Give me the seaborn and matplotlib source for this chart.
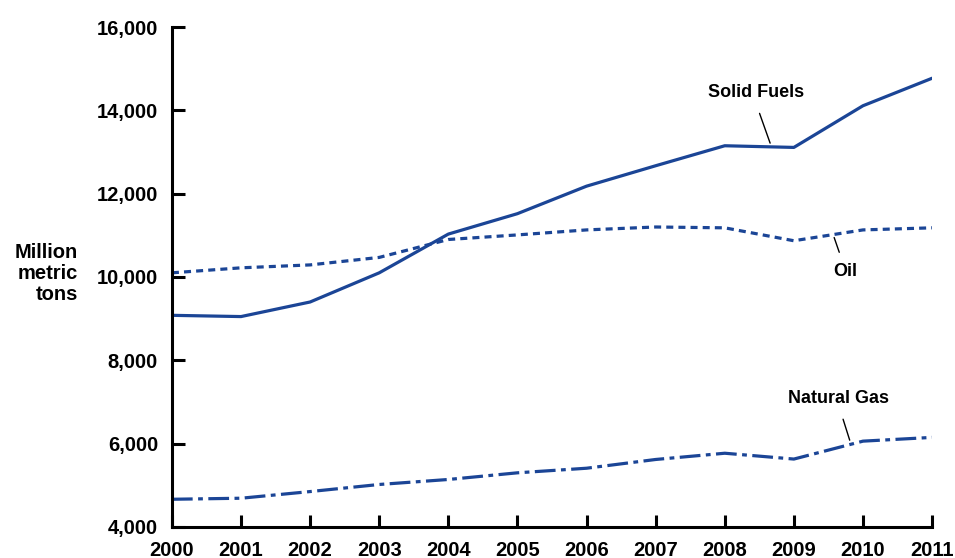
import matplotlib
matplotlib.use("Agg")
import matplotlib.pyplot as plt  # plotting
import seaborn as sns  # line drawing
import pandas as pd  # long-form table for seaborn

# World energy use by fuel, million metric tons
years = list(range(2000, 2012))
solid_fuels = [9080, 9050, 9400, 10100, 11030, 11520, 12180, 12670, 13150, 13110, 14110, 14770]
oil = [10100, 10220, 10290, 10470, 10900, 11010, 11130, 11200, 11180, 10870, 11130, 11180]
natural_gas = [4665, 4690, 4850, 5020, 5140, 5300, 5410, 5620, 5770, 5630, 6060, 6150]
y_ticks = [4000, 6000, 8000, 10000, 12000, 14000, 16000]

blue = "#1b4596"

df = pd.DataFrame({
    "year": years * 3,
    "tons": solid_fuels + oil + natural_gas,
    "fuel": ["Solid Fuels"] * 12 + ["Oil"] * 12 + ["Natural Gas"] * 12,
})

sns.set_style("white")
plt.rcParams["font.family"] = ["Liberation Sans", "DejaVu Sans"]
plt.rcParams["font.weight"] = "bold"
plt.rcParams["text.color"] = "black"
plt.rcParams["xtick.color"] = "black"
plt.rcParams["ytick.color"] = "black"

fig = plt.figure(figsize=(9.55, 5.58), dpi=100)
ax = fig.add_axes([0.180, 0.0556, 0.796, 0.896])

sns.lineplot(
    data=df, x="year", y="tons", hue="fuel", style="fuel",
    palette={"Solid Fuels": blue, "Oil": blue, "Natural Gas": blue},
    dashes={"Solid Fuels": "", "Oil": (2.2, 1.6), "Natural Gas": (6.5, 1.7, 1.5, 1.7)},
    linewidth=2.3, legend=False, ax=ax,
)

ax.set_xlim(2000, 2011)
ax.set_ylim(4000, 16000)
ax.set_xticks(years)
ax.set_yticks(y_ticks)
ax.set_yticklabels([f"{v:,}" for v in y_ticks])
ax.set_xlabel("")
ax.set_ylabel("")

for side in ["top", "right"]:
    ax.spines[side].set_visible(False)
for side in ["left", "bottom"]:
    ax.spines[side].set_color("black")
    ax.spines[side].set_linewidth(2.2)
ax.tick_params(axis="both", direction="in", length=9, width=2.2, color="black",
               labelcolor="black", labelsize=14.5, pad=10, left=True, bottom=True)
for lab in ax.get_xticklabels() + ax.get_yticklabels():
    lab.set_fontweight("bold")

fig.text(0.082, 0.51, "Million\nmetric\ntons", ha="right", va="center", color="black",
         fontsize=14.5, fontweight="bold", linespacing=1.15)

# series labels with leader lines
ax.text(2008.46, 14420, "Solid Fuels", ha="center", va="center", fontsize=13, fontweight="bold")
ax.annotate("", xy=(2008.67, 13150), xytext=(2008.49, 13990),
            arrowprops=dict(arrowstyle="-", lw=1, color="black"))
ax.text(2009.75, 10120, "Oil", ha="center", va="center", fontsize=13, fontweight="bold")
ax.annotate("", xy=(2009.57, 11010), xytext=(2009.67, 10530),
            arrowprops=dict(arrowstyle="-", lw=1, color="black"))
ax.text(2009.64, 7090, "Natural Gas", ha="center", va="center", fontsize=13, fontweight="bold")
ax.annotate("", xy=(2009.82, 6020), xytext=(2009.70, 6650),
            arrowprops=dict(arrowstyle="-", lw=1, color="black"))

fig.savefig("out.png", dpi=100)
